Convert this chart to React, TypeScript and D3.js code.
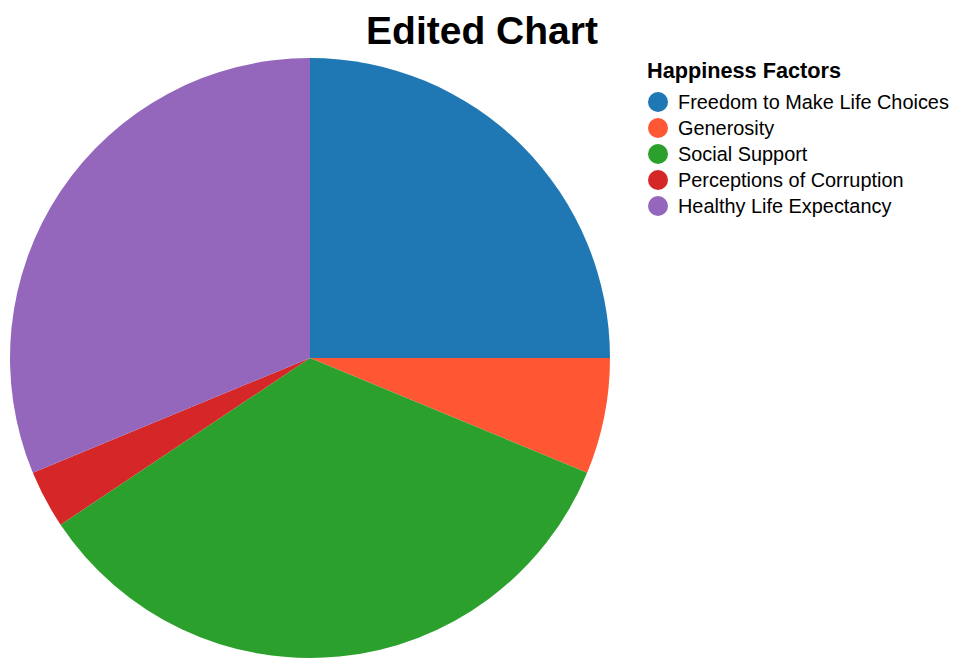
import React from 'react';
import * as d3 from 'd3';

const factors = [
    'Freedom to Make Life Choices',
    'Generosity',
    'Social Support',
    'Perceptions of Corruption',
    'Healthy Life Expectancy',
];
const values = [0.8, 0.2, 1.1, 0.1, 1.0];
const colors = ['#1f77b4', '#ff5733', '#2ca02c', '#d62728', '#9467bd'];

const width = 962;
const height = 668;

const App = () => {
    const cx = 310;
    const cy = 358;
    const radius = 300;

    const color = d3.scaleOrdinal<string, string>().domain(factors).range(colors);

    const pie = d3
        .pie<number>()
        .sort(null)
        .value(d => d);
    const arcs = pie(values);

    const arc = d3
        .arc<d3.PieArcDatum<number>>()
        .innerRadius(0)
        .outerRadius(radius);

    const legendY = d3
        .scalePoint<string>()
        .domain(factors)
        .range([102, 206]);

    const font = 'Liberation Sans, Arial, Helvetica, sans-serif';

    return (
        <svg
            width={width}
            height={height}
            style={{ position: 'absolute', left: 0, top: 0 }}
            fontFamily={font}
        >
            <text x={482} y={44} textAnchor="middle" fontSize={39} fontWeight="bold" fill="#000">
                Edited Chart
            </text>
            <g transform={`translate(${cx}, ${cy})`}>
                {arcs.map((a, i) => (
                    <path key={factors[i]} d={arc(a) || ''} fill={color(factors[i])} />
                ))}
            </g>
            <g>
                <text x={647} y={78} fontSize={21.7} fontWeight="bold" fill="#000">
                    Happiness Factors
                </text>
                {factors.map(f => (
                    <g key={f} transform={`translate(0, ${legendY(f)})`}>
                        <circle cx={658} cy={0} r={10} fill={color(f)} />
                        <text x={678} y={0} dy="0.35em" fontSize={19.9} fill="#000">
                            {f}
                        </text>
                    </g>
                ))}
            </g>
        </svg>
    );
};

export default App;
